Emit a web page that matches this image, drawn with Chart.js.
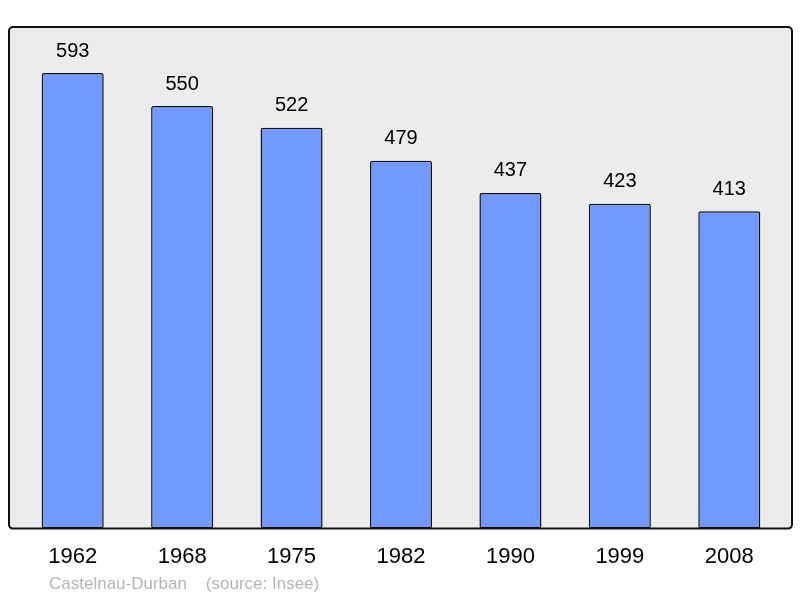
<!DOCTYPE html>
<html>
<head>
<meta charset="utf-8">
<style>
  html, body { margin: 0; padding: 0; background: #fff; }
  #popChart { display: block; }
</style>
</head>
<body>
<canvas id="popChart" width="800" height="598"></canvas>

<script src="https://cdn.jsdelivr.net/npm/chart.js"></script>
<script>
  const years = ["1962", "1968", "1975", "1982", "1990", "1999", "2008"];
  const population = [593, 550, 522, 479, 437, 423, 413];
  const yMax = 653;
  const footerText = "Castelnau-Durban    (source: Insee)";

  // gray panel with black rounded border behind the bars
  const panel = {
    id: "panel",
    beforeDatasetsDraw(chart) {
      const a = chart.chartArea;
      const c = chart.ctx;
      c.save();
      c.beginPath();
      c.roundRect(a.left - 9, a.top, a.right - a.left + 17, a.bottom - a.top, 4);
      c.fillStyle = "#ececec";
      c.fill();
      c.restore();
    },
    afterDatasetsDraw(chart) {
      const a = chart.chartArea;
      const c = chart.ctx;
      c.save();
      c.beginPath();
      c.roundRect(a.left - 9, a.top, a.right - a.left + 17, a.bottom - a.top, 4);
      c.lineWidth = 2;
      c.strokeStyle = "#111";
      c.stroke();

      // value labels above bars
      const meta = chart.getDatasetMeta(0);
      c.fillStyle = "#000";
      c.font = "20px 'Liberation Sans', Arial, sans-serif";
      c.textAlign = "center";
      c.textBaseline = "middle";
      meta.data.forEach((bar, i) => {
        c.fillText(String(population[i]), bar.x, bar.y - 22);
      });

      // footer
      c.fillStyle = "#b4b4b4";
      c.font = "17px 'Liberation Sans', Arial, sans-serif";
      c.textAlign = "left";
      c.fillText(footerText, 49, 584);
      c.restore();
    }
  };

  const ctx = document.getElementById("popChart").getContext("2d");

  new Chart(ctx, {
    type: "bar",
    data: {
      labels: years,
      datasets: [
        {
          data: population,
          backgroundColor: "#7199ff",
          borderColor: "#111",
          borderWidth: 1.5,
          borderRadius: 2,
          borderSkipped: false,
          barPercentage: 0.567,
          categoryPercentage: 1,
        },
      ],
    },
    options: {
      responsive: false,
      animation: false,
      layout: {
        padding: { left: 18, right: 16, top: 27, bottom: 21 },
      },
      plugins: {
        legend: { display: false },
        tooltip: { enabled: false },
      },
      scales: {
        x: {
          grid: { display: false },
          border: { display: false },
          ticks: {
            color: "#000",
            padding: 7,
            font: { family: "'Liberation Sans', Arial, sans-serif", size: 22 },
          },
        },
        y: {
          display: false,
          min: 0,
          max: yMax,
        },
      },
    },
    plugins: [panel],
  });
</script>
</body>
</html>
